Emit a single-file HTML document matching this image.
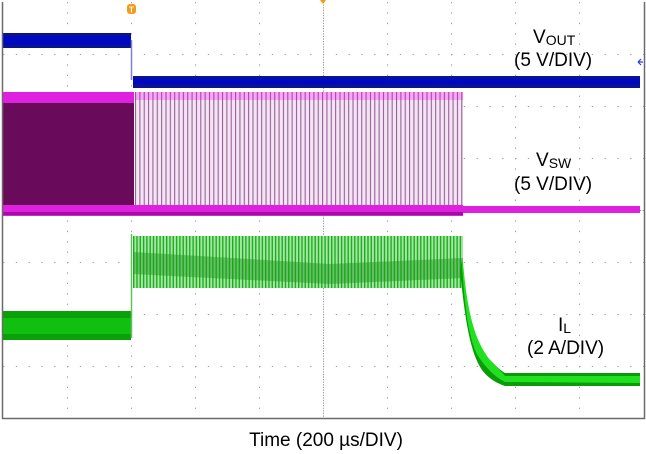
<!DOCTYPE html>
<html><head><meta charset="utf-8"><style>
html,body{margin:0;padding:0;background:#fff;}
svg{display:block;}
text{font-family:"Liberation Sans",Arial,sans-serif;fill:#000;}
</style></head><body>
<svg width="646" height="454" viewBox="0 0 646 454" xmlns="http://www.w3.org/2000/svg">
<defs>
<pattern id="sw" x="135" y="0" width="4.35" height="10" patternUnits="userSpaceOnUse">
<rect x="0" y="0" width="1.2" height="10" fill="#9a5a9a"/>
<rect x="1.2" y="0" width="3.15" height="10" fill="#f3e6f3"/>
</pattern>
<pattern id="swtop" x="135" y="0" width="4.35" height="10" patternUnits="userSpaceOnUse">
<rect x="0" y="0" width="1.2" height="10" fill="#b040b0"/>
<rect x="1.2" y="0" width="3.15" height="10" fill="#f6a8f6"/>
</pattern>
<pattern id="il" x="133" y="0" width="3.3" height="10" patternUnits="userSpaceOnUse">
<rect x="0" y="0" width="1.4" height="10" fill="#18b018"/>
<rect x="1.4" y="0" width="1.9" height="10" fill="#a8e4a8"/>
</pattern>
</defs>
<rect width="646" height="454" fill="#fff"/>
<g stroke="#9a9a9a" stroke-width="1" stroke-dasharray="1.3 9.1" fill="none">
<path d="M67.5 2V418M131.5 2V418M195.5 2V418M259.5 2V418M387.5 2V418M451.5 2V418M515.5 2V418M579.5 2V418"/>
</g>
<g stroke="#9a9a9a" stroke-width="1" stroke-dasharray="1.3 11.5" fill="none">
<path d="M3 54.5H644M3 106.5H644M3 158.5H644M3 262.5H644M3 314.5H644M3 366.5H644"/>
</g>
<g stroke="#9a9a9a" stroke-width="1" stroke-dasharray="1.3 1.3" fill="none">
<path d="M323.5 2V418M3 210.5H644"/>
</g>
<!-- Vout -->
<rect x="3" y="33" width="128" height="15" fill="#0a1490"/>
<rect x="3" y="36" width="128" height="9" fill="#0008c0"/>
<path d="M131.5 40V80" stroke="#8080d0" stroke-width="1.5"/>
<rect x="133" y="76" width="507" height="12" fill="#0a1490"/>
<rect x="133" y="78.5" width="507" height="6" fill="#0008c0"/>
<!-- Vsw -->
<rect x="3" y="92" width="131" height="12" fill="#e020e0"/>
<rect x="3" y="103" width="131" height="103" fill="#6a0a5a"/>
<rect x="135" y="92" width="328" height="118" fill="url(#sw)"/>
<rect x="135" y="92" width="328" height="8" fill="url(#swtop)"/>
<rect x="3" y="205" width="460" height="11" fill="#e020e0"/>
<rect x="3" y="212" width="460" height="3" fill="#a010a0"/>
<rect x="463" y="206" width="177" height="7" fill="#e020e0"/>
<!-- IL -->
<rect x="3" y="311" width="128" height="29" fill="#0aa00a"/>
<rect x="3" y="318" width="128" height="16" fill="#10c010"/>
<path d="M131.5 338V234" stroke="#60c060" stroke-width="1.5"/>
<rect x="133" y="236" width="330" height="52" fill="url(#il)"/>
<path d="M133 252L330 264L463 258L463 278L330 284L133 274Z" fill="#1a961a" opacity="0.45"/>
<path d="M462 260C466 310 472 342 488 358C496 366 500 370 505 373L640 373L640 386L505 386C496 383 488 378 482 370C470 352 465 320 460 270Z" fill="#0a9a0a"/>
<path d="M463 262C467 310 474 340 490 360C498 368 502 372 505 376L640 376L640 383L505 382C495 377 486 368 478 356C469 340 465 310 462 266Z" fill="#20e020"/>
<!-- frame -->
<path d="M2.5 2V418.5H644.5V2" fill="none" stroke="#6a6a6a" stroke-width="1.5"/>
<rect x="127" y="4" width="9" height="10" rx="3" fill="#f29a1a"/>
<text x="131.5" y="12.5" font-size="8" text-anchor="middle" style="fill:#fff;font-weight:bold">T</text>
<path d="M320 0L326 0L323 4Z" fill="#f29a1a"/>
<path d="M643 62L638 62M638 62L641 59M638 62L641 65" stroke="#2040e0" stroke-width="1.2"/>
<!-- labels -->
<text x="533" y="43" font-size="19">V<tspan font-size="14" dy="2">OUT</tspan></text>
<text x="514" y="66" font-size="19">(5 V/DIV)</text>
<text x="536" y="166" font-size="19">V<tspan font-size="14" dy="2">SW</tspan></text>
<text x="514" y="190" font-size="19">(5 V/DIV)</text>
<text x="558" y="331" font-size="19">I<tspan font-size="14" dy="2">L</tspan></text>
<text x="527" y="354" font-size="19">(2 A/DIV)</text>
<text x="326" y="446" font-size="19" text-anchor="middle">Time (200 µs/DIV)</text>
</svg>
</body></html>
